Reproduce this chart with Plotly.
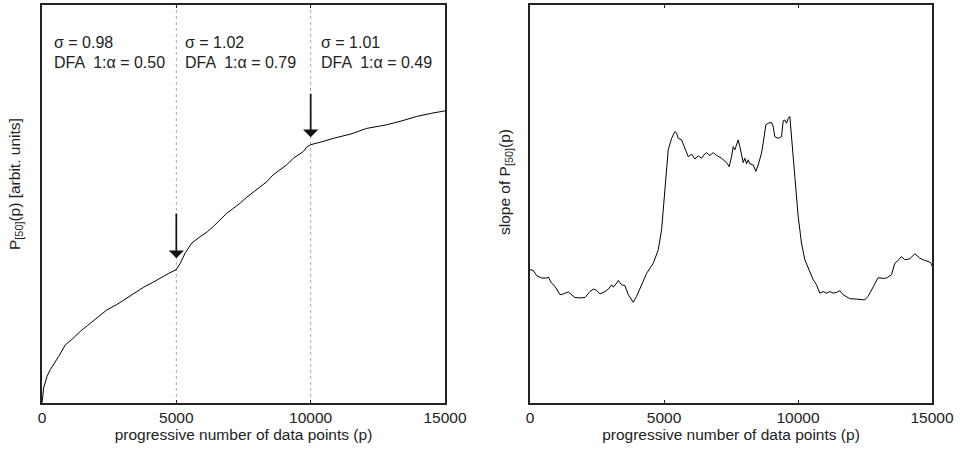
import plotly.graph_objects as go

# ---- data ----
p_left = [0, 62, 186, 310, 620, 868, 1150, 1426, 1700, 2045, 2417, 2800, 3161, 3500, 3781, 4100,
          4401, 4700, 4996, 5145, 5331, 5579, 5888, 6150, 6384, 6650, 6880, 7100, 7376, 7600,
          7872, 8100, 8368, 8600, 8864, 9100, 9360, 9550, 9732, 9850, 10000, 10400, 10847,
          11500, 12087, 12500, 12831, 13400, 13946, 14500, 15000]
P50 = [0.0, 3.8, 6.7, 8.4, 11.7, 14.6, 16.2, 18.0, 19.5, 21.3, 23.4, 24.8, 26.4, 28.0, 29.1, 30.2,
       31.4, 32.5, 33.5, 35.1, 37.7, 40.2, 41.8, 43.0, 44.4, 46.3, 47.7, 48.8, 50.2, 51.6,
       53.1, 54.2, 55.6, 57.3, 58.6, 59.8, 61.5, 62.3, 63.2, 64.3, 64.9, 65.6, 66.5,
       67.6, 69.0, 69.5, 69.9, 70.9, 72.0, 72.8, 73.4]

p_right = [0, 124, 249, 435, 622, 684, 808, 932, 1119, 1243, 1429, 1554, 1678, 1865, 2051, 2237,
           2362, 2486, 2610, 2797, 2921, 3045, 3108, 3232, 3294, 3418, 3543, 3667, 3853, 3978,
           4164, 4351, 4599, 4786, 4910, 5034, 5158, 5283, 5407, 5469, 5531, 5656, 5780, 5904,
           6029, 6153, 6277, 6401, 6526, 6588, 6712, 6837, 6961, 7147, 7334, 7433, 7520, 7582,
           7644, 7707, 7769, 7831, 7893, 7955, 8017, 8080, 8142, 8204, 8328, 8428, 8515, 8639,
           8701, 8800, 8887, 9012, 9074, 9136, 9260, 9385, 9447, 9509, 9571, 9633, 9695, 9758,
           9882, 10006, 10130, 10255, 10441, 10566, 10690, 10814, 10938, 11063, 11187, 11311,
           11436, 11560, 11684, 11933, 12181, 12492, 12617, 12803, 12990, 13176, 13300, 13487,
           13611, 13735, 13860, 13984, 14170, 14357, 14543, 14730, 14854, 14979, 15000]
slope = [33.5, 33.3, 32.0, 31.4, 31.4, 31.6, 30.1, 29.3, 27.2, 27.4, 27.9, 27.2, 26.5, 26.4, 26.5, 28.0,
         28.6, 28.3, 27.4, 28.0, 28.6, 29.7, 29.1, 30.1, 30.8, 29.7, 29.5, 27.2, 25.3, 26.8,
         29.7, 32.6, 35.1, 38.5, 43.5, 54.4, 63.6, 66.5, 68.2, 67.8, 66.5, 66.1, 64.0, 61.9,
         62.5, 61.3, 62.1, 61.5, 62.6, 62.9, 62.2, 62.9, 62.2, 61.5, 60.4, 59.4, 61.9, 64.4,
         63.6, 65.1, 66.1, 64.4, 61.9, 60.4, 61.5, 60.1, 61.1, 60.1, 59.8, 58.2, 59.8, 62.8,
         65.3, 69.9, 70.3, 70.5, 69.5, 66.9, 66.5, 66.9, 70.9, 71.1, 70.3, 71.5, 72.0, 66.1,
         56.9, 46.9, 40.2, 36.0, 33.1, 31.0, 29.7, 27.6, 28.0, 27.6, 28.0, 27.6,
         27.8, 28.2, 27.2, 26.2, 26.1, 25.9, 26.8, 29.3, 31.5, 31.3, 31.4, 32.2,
         35.1, 35.8, 36.8, 36.0, 36.2, 37.5, 36.4, 35.8, 35.6, 35.1, 34.3]

segment_bounds = [5000, 10000]
arrow_tails = [48.0, 78.1]
arrow_heads = [36.4, 66.8]
segment_starts = [372, 5248, 10310]
sigma_vals = ["0.98", "1.02", "1.01"]
alpha_vals = ["0.50", "0.79", "0.49"]
tick_vals = [0, 5000, 10000, 15000]
tick_text = ["0", "5000", "10000", "15000"]

FONT = "Liberation Sans, Arial, sans-serif"
TXT = "#222222"

fig = go.Figure()
fig.add_trace(go.Scatter(x=p_left, y=P50, mode="lines", line=dict(color="black", width=1),
                         xaxis="x", yaxis="y", showlegend=False, hoverinfo="skip"))
fig.add_trace(go.Scatter(x=p_right, y=slope, mode="lines", line=dict(color="black", width=1),
                         xaxis="x2", yaxis="y2", showlegend=False, hoverinfo="skip"))

ax_common = dict(range=[0, 15000], tickvals=tick_vals, ticktext=tick_text, ticks="inside",
                 ticklen=3, tickcolor="#222", showline=True, linecolor="#222", linewidth=1.5,
                 mirror="ticks", showgrid=False, zeroline=False, automargin=False,
                 tickfont=dict(family=FONT, size=15.5, color=TXT),
                 title=dict(text="progressive number of data points (p)",
                            font=dict(family=FONT, size=15.5, color=TXT), standoff=4))
ay_common = dict(range=[0, 100], showticklabels=False, ticks="", showline=True, linecolor="#222",
                 linewidth=1.5, mirror=True, showgrid=False, zeroline=False, automargin=False)

fig.update_layout(
    width=960, height=451, margin=dict(l=0, r=0, t=0, b=0, autoexpand=False),
    paper_bgcolor="white", plot_bgcolor="white",
    xaxis=dict(domain=[42 / 960, 445 / 960], anchor="y", **ax_common),
    yaxis=dict(domain=[1 - 403 / 451, 1 - 5 / 451], anchor="x", **ay_common),
    xaxis2=dict(domain=[530 / 960, 932 / 960], anchor="y2", **ax_common),
    yaxis2=dict(domain=[1 - 403 / 451, 1 - 5 / 451], anchor="x2", **ay_common),
)

shapes = []
for b in segment_bounds:
    shapes.append(dict(type="line", xref="x", yref="y", x0=b, x1=b, y0=0, y1=100,
                       line=dict(color="#aaa", width=1, dash="dot"), layer="below"))
fig.update_layout(shapes=shapes)

annotations = []
for b, t, h in zip(segment_bounds, arrow_tails, arrow_heads):
    annotations.append(dict(x=b, y=h, ax=b, ay=t, xref="x", yref="y", axref="x", ayref="y",
                            text="", showarrow=True, arrowhead=1, arrowsize=1.5,
                            arrowwidth=1.7, arrowcolor="#111"))
for xs, s, a in zip(segment_starts, sigma_vals, alpha_vals):
    annotations.append(dict(x=xs, y=90.7, xref="x", yref="y", xanchor="left", yanchor="middle",
                            text=f"σ = {s}", showarrow=False,
                            font=dict(family=FONT, size=16, color=TXT)))
    annotations.append(dict(x=xs, y=85.6, xref="x", yref="y", xanchor="left", yanchor="middle",
                            text=f"DFA  1:α = {a}", showarrow=False,
                            font=dict(family=FONT, size=16, color=TXT)))
annotations.append(dict(x=15 / 960, y=1 - 184 / 451, xref="paper", yref="paper", textangle=-90,
                        xanchor="center", yanchor="middle", showarrow=False,
                        text="P<sub>[50]</sub>(p) [arbit. units]",
                        font=dict(family=FONT, size=15.5, color=TXT)))
annotations.append(dict(x=505 / 960, y=1 - 182 / 451, xref="paper", yref="paper", textangle=-90,
                        xanchor="center", yanchor="middle", showarrow=False,
                        text="slope of P<sub>[50]</sub>(p)",
                        font=dict(family=FONT, size=15.5, color=TXT)))
fig.update_layout(annotations=annotations)

fig.write_html("out.html")
